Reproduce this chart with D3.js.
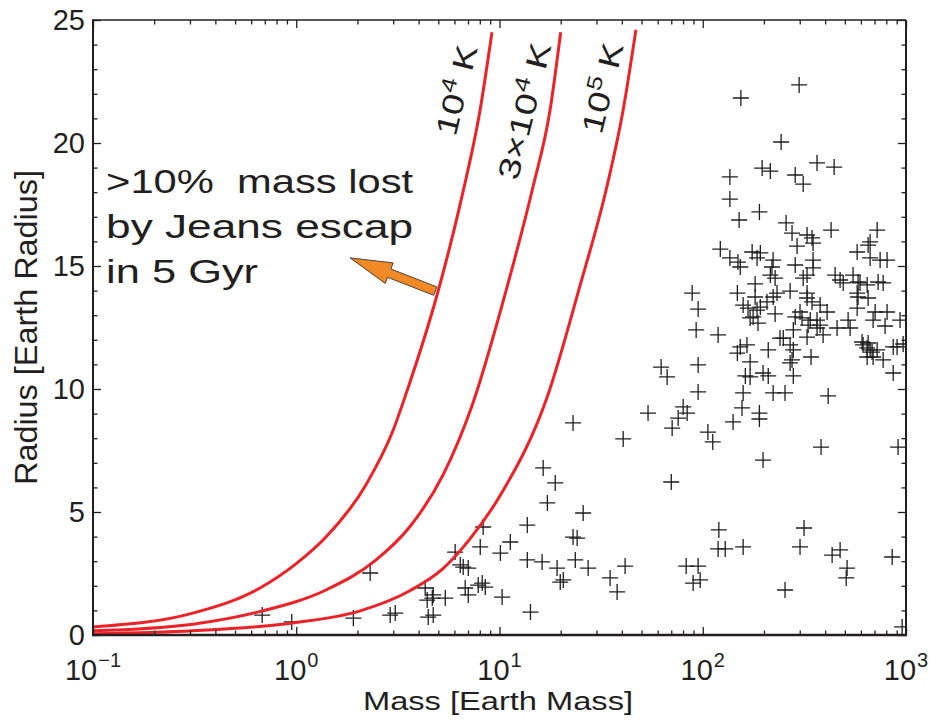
<!DOCTYPE html>
<html><head><meta charset="utf-8">
<script src="https://cdn.jsdelivr.net/npm/d3@7"></script>
<style>
body{margin:0;background:#fff;}
svg{display:block;}
text{font-family:"Liberation Sans",Arial,Helvetica,sans-serif;fill:#231f20;white-space:pre;}
</style>
</head><body>
<svg id="c" width="932" height="721"></svg>
<script>
// ---------------- data ----------------
const xTicks = [0.1, 1, 10, 100, 1000];
const xTickExponents = ["\u22121", "0", "1", "2", "3"];
const yTicks = [0, 5, 10, 15, 20, 25];
const xTitle = "Mass [Earth Mass]";
const yTitle = "Radius [Earth Radius]";
const noteLines = [">10%  mass lost", "by Jeans escap", "in 5 Gyr"];

// Jeans-escape limit curves [mass, radius]
const curve1e4 = [[0.1,0.33],[0.31,0.89],[0.66,1.9],[1.0,2.9],[1.40,3.98],[2.20,6.1],[2.99,8.3],[3.5,9.9],[4.92,13.8],[6.61,18.0],[8.01,21.3],[9.18,24.5]];
const curve3e4 = [[0.1,0.17],[0.31,0.44],[0.66,0.95],[1.40,1.83],[2.47,3.05],[3.62,4.4],[5.27,6.5],[7.31,9.3],[10.9,14.15],[14.6,18.2],[17.7,21.3],[20.0,24.5]];
const curve1e5 = [[0.1,0.05],[0.31,0.17],[0.96,0.49],[2.06,0.98],[3.62,1.8],[5.27,2.7],[7.14,3.9],[10.3,5.8],[17.1,9.63],[24.8,14.15],[33.7,18.2],[40.5,21.3],[46.9,24.6]];

// planets [mass, radius]
const planets = [
[0.68,0.81],[0.95,0.53],[1.91,0.69],[2.31,2.52],[2.90,0.81],[3.07,0.89],[4.31,1.91],[4.41,1.42],[4.67,1.50],[4.72,1.63],
[4.46,0.73],[4.72,0.81],[5.41,1.50],[6.05,3.37],[6.41,2.85],[6.63,2.76],[7.02,2.72],[6.78,1.91],[7.02,1.63],[7.86,2.03],
[8.22,2.11],[8.51,1.95],[8.04,3.58],[8.31,4.39],[10.3,1.54],[10.1,3.33],[11.3,3.78],[13.7,4.47],[14.2,0.93],[17.2,5.37],
[18.8,6.18],[13.7,3.05],[16.2,2.97],[19.2,2.72],[19.9,2.15],[20.6,2.24],[23.0,3.98],[24.1,3.94],[23.6,3.05],[25.8,4.96],
[27.3,2.72],[35.0,2.32],[37.9,1.75],[41.5,2.80],[70.0,6.22],[82.9,2.80],[94.9,2.80],[89.7,2.11],[97.1,2.24],[120,4.27],
[119,3.50],[129,3.50],[158,3.58],[254,1.83],[301,3.58],[315,4.35],[433,3.25],[474,3.46],[513,2.72],[508,2.32],
[855,3.17],[957,0.33],
[23.0,8.62],[40.6,7.97],[16.4,6.79],[53.8,9.02],[62.4,10.89],[66.8,10.49],[80.1,9.27],[83.8,9.02],[75.7,8.82],[70.7,8.41],
[106,8.25],[112,7.85],[94.9,10.98],[94.9,9.88],[88.7,13.90],[94.9,13.25],[92.8,12.40],[119,12.20],[198,7.11],[382,7.64],
[414,9.72],[914,7.64],[141,8.66],[156,9.23],[190,9.02],[190,8.78],[158,9.84],[222,9.84],[254,9.84],[171,10.49],
[162,10.53],[198,10.65],[210,10.53],[171,11.10],[148,11.46],[165,11.79],[153,11.71],[210,11.59],[148,13.90],[181,14.27],
[181,13.74],[232,13.90],[222,13.74],[158,13.41],[167,13.29],[185,13.21],[192,13.33],[177,12.93],[171,12.89],[227,13.05],
[187,12.68],[207,13.54],[215,14.63],[227,14.51],[269,13.98],[326,13.90],[326,13.70],[301,13.13],[285,12.93],[345,13.54],
[378,13.41],[409,13.13],[338,12.80],[365,12.80],[308,12.89],[330,12.60],[378,12.60],[365,12.48],[279,12.40],[326,12.11],
[391,12.20],[458,12.48],[249,12.07],[240,12.07],[269,11.79],[279,11.59],[275,11.18],[269,11.06],[279,10.53],[341,11.30],
[448,14.63],[474,14.43],[491,14.31],[549,14.63],[581,14.35],[594,14.31],[644,14.23],[729,14.35],[772,14.31],[575,13.90],
[581,13.74],[651,13.70],[575,13.29],[705,13.13],[807,13.13],[689,12.80],[789,12.56],[935,12.80],[519,12.80],[531,12.48],
[615,11.79],[644,11.67],[666,11.59],[608,11.91],[651,11.87],[681,11.50],[721,11.59],[772,11.18],[865,11.71],[904,11.71],
[968,11.83],[865,10.65],[644,11.30],[689,11.30],[326,14.63],[312,14.51],
[298,22.36],[154,21.83],[243,20.04],[196,18.98],[215,18.86],[136,18.62],[365,19.19],[443,19.02],[285,18.70],[312,18.33],
[136,17.72],[190,17.20],[151,16.87],[257,16.75],[275,16.34],[326,16.26],[345,16.14],[349,15.93],[291,15.81],[428,16.46],
[721,16.46],[666,15.98],[651,15.85],[575,15.57],[122,15.69],[136,15.33],[149,15.16],[153,14.96],[175,15.57],[185,15.33],
[192,15.53],[222,15.24],[219,14.96],[285,15.04],[349,15.24],[349,14.92],[666,15.33],[746,15.24],[807,15.24]
];

// ---------------- layout ----------------
const W = 932, H = 721;
const M = {l: 93, r: 26, t: 20, b: 86};
const ink = "#231f20";
const svg = d3.select("#c");
const x = d3.scaleLog().domain([0.1, 1000]).range([M.l, W - M.r]);
const y = d3.scaleLinear().domain([0, 25]).range([H - M.b, M.t]);

svg.append("defs").append("clipPath").attr("id", "clip")
  .append("rect").attr("x", M.l).attr("y", M.t).attr("width", W - M.l - M.r).attr("height", H - M.t - M.b);

// scatter
const pg = svg.append("g").attr("clip-path", "url(#clip)");
const arm = 8;
pg.selectAll("path.pt").data(planets).join("path")
  .attr("class", "pt")
  .attr("d", d => {
    const px = x(d[0]), py = y(d[1]);
    return `M${px - arm},${py}H${px + arm}M${px},${py - arm}V${py + arm}`;
  })
  .attr("stroke", "#1e1e1e").attr("stroke-width", 1.3).attr("fill", "none");

// curves
const line = d3.line().x(d => x(d[0])).y(d => y(d[1])).curve(d3.curveMonotoneX);
const cg = svg.append("g").attr("clip-path", "url(#clip)");
[curve1e4, curve3e4, curve1e5].forEach(c => {
  cg.append("path").datum(c).attr("d", line)
    .attr("fill", "none").attr("stroke", "#ec2227").attr("stroke-width", 3);
});

// ticks (inward, mirrored)
const minorX = [];
[0.1, 1, 10, 100].forEach(d => { for (let k = 2; k <= 9; k++) minorX.push(k * d); });
const minorY = d3.range(0, 26).filter(v => v % 5 !== 0);

function tickAxis(gen, tx, ty, vals, size) {
  const g = svg.append("g").attr("transform", `translate(${tx},${ty})`)
    .call(gen.tickValues(vals).tickSize(-size).tickSizeOuter(0).tickFormat(""));
  g.select(".domain").remove();
  g.selectAll(".tick line").attr("stroke", ink).attr("stroke-width", 1.3);
}
const yB = y(0), yT = y(25), xL = x(0.1), xR = x(1000);
tickAxis(d3.axisBottom(x), 0, yB, xTicks, 8);
tickAxis(d3.axisBottom(x), 0, yB, minorX, 4.5);
tickAxis(d3.axisTop(x), 0, yT, xTicks, 8);
tickAxis(d3.axisTop(x), 0, yT, minorX, 4.5);
tickAxis(d3.axisLeft(y), xL, 0, yTicks, 8);
tickAxis(d3.axisLeft(y), xL, 0, minorY, 4.5);
tickAxis(d3.axisRight(y), xR, 0, yTicks, 8);
tickAxis(d3.axisRight(y), xR, 0, minorY, 4.5);

// frame
const fg = svg.append("g").attr("stroke", ink).attr("fill", "none");
fg.append("line").attr("x1", xL).attr("x2", xR).attr("y1", yT).attr("y2", yT).attr("stroke-width", 1.5);
fg.append("line").attr("x1", xR).attr("x2", xR).attr("y1", yT).attr("y2", yB).attr("stroke-width", 2);
fg.append("line").attr("x1", xL).attr("x2", xL).attr("y1", yT - 0.75).attr("y2", yB + 1).attr("stroke-width", 2);
fg.append("line").attr("x1", xL - 1).attr("x2", xR + 1).attr("y1", yB).attr("y2", yB).attr("stroke-width", 2.5);

// y tick labels
svg.append("g").selectAll("text").data(yTicks).join("text")
  .attr("x", xL - 8).attr("y", d => y(d) + 10)
  .attr("text-anchor", "end").style("font-size", "29px").text(d => d);

// x tick labels with superscripts
xTicks.forEach((v, i) => {
  const t = svg.append("text").attr("x", x(v)).attr("y", yB + 45)
    .attr("text-anchor", "middle").style("font-size", "29px");
  t.append("tspan").text("10");
  t.append("tspan").attr("dy", -13).attr("dx", 1).style("font-size", "20px").text(xTickExponents[i]);
});

// axis titles
svg.append("text").attr("x", 498).attr("y", 710).attr("text-anchor", "middle")
  .attr("textLength", 270).attr("lengthAdjust", "spacingAndGlyphs")
  .style("font-size", "25px").text(xTitle);
svg.append("text").attr("transform", `translate(37,${(yT + yB) / 2}) rotate(-90)`)
  .attr("text-anchor", "middle").attr("textLength", 315).attr("lengthAdjust", "spacingAndGlyphs")
  .style("font-size", "32px").text(yTitle);

// annotation text
const noteX = x(0.116);
const noteR = [17.97, 16.14, 14.31];
const noteLen = [307, 307, 152];
noteLines.forEach((s, i) => {
  svg.append("text").attr("x", noteX).attr("y", y(noteR[i]))
    .attr("textLength", noteLen[i]).attr("lengthAdjust", "spacingAndGlyphs")
    .style("font-size", "33px").text(s);
});

// orange arrow
(function () {
  const tip = [x(1.84), y(15.33)], tail = [x(4.83), y(13.98)];
  const dx = tip[0] - tail[0], dy = tip[1] - tail[1], L = Math.hypot(dx, dy);
  const u = [dx / L, dy / L], n = [-u[1], u[0]];
  const sw = 4.5, hw = 11, hl = 42;
  const neck = [tip[0] - u[0] * hl, tip[1] - u[1] * hl];
  const P = (b, s, w) => [b[0] + n[0] * s * w, b[1] + n[1] * s * w];
  const pts = [P(tail, 1, sw), P(neck, 1, sw), P(neck, 1, hw), tip, P(neck, -1, hw), P(neck, -1, sw), P(tail, -1, sw)];
  svg.append("path").attr("d", "M" + pts.map(p => p.join(",")).join("L") + "Z")
    .attr("fill", "#f18a25").attr("stroke", "#3a3330").attr("stroke-width", 0.9).attr("stroke-linejoin", "miter");
})();

// temperature labels (rotated along curves)
const labelPos = [[6.12, 22.15], [13.2, 21.3], [32.0, 22.24]];
const labelLen = [92, 140, 92];
const labelParts = [
  [["10", 0], ["4", 1], [" K", 0]],
  [["3\u00d710", 0], ["4", 1], [" K", 0]],
  [["10", 0], ["5", 1], [" K", 0]]
];
labelParts.forEach((parts, i) => {
  const t = svg.append("text")
    .attr("transform", `translate(${x(labelPos[i][0])},${y(labelPos[i][1])}) rotate(-76)`)
    .attr("text-anchor", "middle").attr("dy", "0.36em").style("font-size", "30px")
    .attr("textLength", labelLen[i]).attr("lengthAdjust", "spacingAndGlyphs");
  let up = false;
  parts.forEach(([s, sup]) => {
    const ts = t.append("tspan").text(s);
    if (sup) { ts.attr("dy", -12).style("font-size", "21px"); up = true; }
    else if (up) { ts.attr("dy", 12); up = false; }
  });
});
</script>
</body></html>
